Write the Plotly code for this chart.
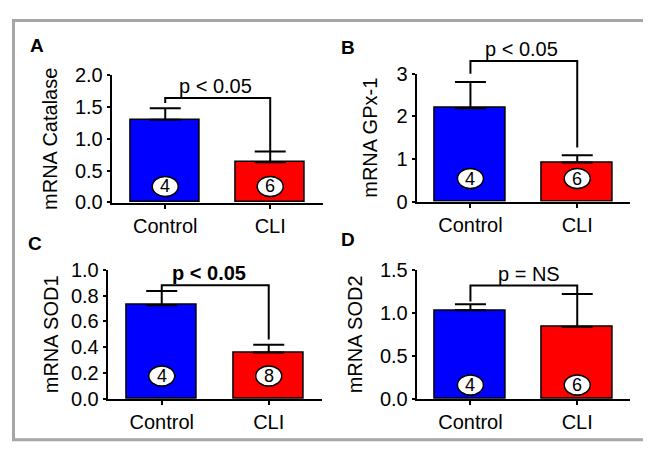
import plotly.graph_objects as go

# page body adds an 8px margin, so the figure is placed at (8, 8) in the window
OX, OY = 8, 8
W, H = 651 - OX, 455 - OY

groups = ["Control", "CLI"]
group_x = [0, 1]
colors = ["#0000ff", "#ff0000"]

panels = ["A", "B", "C", "D"]
ylabels = ["mRNA Catalase", "mRNA GPx-1", "mRNA SOD1", "mRNA SOD2"]

means_A = [1.30, 0.63]
sem_A = [0.18, 0.17]
means_B = [2.19, 0.92]
sem_B = [0.62, 0.17]
means_C = [0.726, 0.36]
sem_C = [0.11, 0.06]
means_D = [1.03, 0.838]
sem_D = [0.07, 0.38]

n_A = ["4", "6"]
n_B = ["4", "6"]
n_C = ["4", "8"]
n_D = ["4", "6"]

# bracket: [left leg end, top, right leg end]
bracket_A = [1.56, 1.64, 0.80]
bracket_B = [3.00, 3.30, 1.27]
bracket_C = [0.84, 0.88, 0.46]
bracket_D = [1.13, 1.316, 1.217]

ptext = ["p < 0.05", "p < 0.05", "<b>p < 0.05</b>", "p = NS"]

yranges = [[0, 2.0], [0, 3.0], [0, 1.0], [0, 1.5]]
ydticks = [0.5, 1, 0.2, 0.5]
yfmts = [".1f", "d", ".1f", ".1f"]

means = [means_A, means_B, means_C, means_D]
sems = [sem_A, sem_B, sem_C, sem_D]
ns = [n_A, n_B, n_C, n_D]
brackets = [bracket_A, bracket_B, bracket_C, bracket_D]

# layout geometry (window pixels)
xdom_px = [(111.7, 322.7), (416.7, 630.0), (107.7, 321.7), (416.7, 630.0)]
ydom_px = [(201.0, 67.0), (200.0, 65.7), (407.7, 271.7), (407.7, 271.7)]
xranges = [[-0.51, 1.50], [-0.503, 1.494], [-0.505, 1.495], [-0.503, 1.494]]
circle_off = [16, 23, 23, 14]
ptext_xshift = [-2, -2, -6, 5]
title_standoff = [12, 14, 7, 12]
letter_pos = [(37, 36), (348, 38), (35, 244), (348, 240)]
EXTRA = 40  # extra pixels above each panel for the significance bracket


def px_x(p):
    return (p - OX) / W


def px_y(p):
    return 1 - (p - OY) / H


FONT = "Liberation Sans, Arial, sans-serif"
fig = go.Figure()
shapes = []
annotations = []

for i in range(4):
    sfx = "" if i == 0 else str(i + 1)
    xa = "x" + sfx
    ya = "y" + sfx
    yb_name = "y" + str(i + 5)
    fig.add_trace(go.Bar(
        x=group_x, y=means[i], width=0.66,
        marker=dict(color=colors, line=dict(color="black", width=1.5)),
        error_y=dict(type="data", array=sems[i], arrayminus=[0, 0], symmetric=False,
                     color="black", thickness=2, width=15.5),
        xaxis=xa, yaxis=ya, showlegend=False, hoverinfo="skip",
    ))
    b = brackets[i]
    fig.add_trace(go.Scatter(
        x=[group_x[0], group_x[0], group_x[1], group_x[1]],
        y=[b[0], b[1], b[1], b[2]],
        mode="lines", line=dict(color="black", width=2),
        xaxis=xa, yaxis=yb_name, showlegend=False, hoverinfo="skip",
    ))
    annotations.append(dict(
        x=(group_x[0] + group_x[1]) / 2, y=b[1], xref=xa, yref=yb_name,
        text=ptext[i], showarrow=False, yanchor="bottom", xshift=ptext_xshift[i], yshift=-1,
        font=dict(family=FONT, size=20, color="black"),
    ))
    for j in range(2):
        off = circle_off[i]
        shapes.append(dict(
            type="circle", xref=xa, yref=ya,
            xsizemode="pixel", xanchor=group_x[j], x0=-13, x1=13,
            ysizemode="pixel", yanchor=0, y0=off - 10, y1=off + 10,
            fillcolor="white", line=dict(color="black", width=1.5), layer="above",
        ))
        annotations.append(dict(
            x=group_x[j], y=0, xref=xa, yref=ya, text=ns[i][j], showarrow=False,
            yanchor="middle", yshift=off, font=dict(family=FONT, size=18, color="black"),
        ))
    x0, x1 = xdom_px[i]
    yb, yt = ydom_px[i]
    fig.layout["xaxis" + sfx] = dict(
        domain=[px_x(x0), px_x(x1)], range=xranges[i], anchor=ya,
        tickvals=group_x, ticktext=groups, ticks="outside", ticklen=4, tickwidth=2,
        tickcolor="black", showline=True, linecolor="black", linewidth=2,
        showgrid=False, zeroline=False, fixedrange=True,
        tickfont=dict(family=FONT, size=20, color="black"),
    )
    fig.layout["yaxis" + sfx] = dict(
        domain=[px_y(yb), px_y(yt)], range=yranges[i], anchor=xa,
        dtick=ydticks[i], tick0=0, tickformat=yfmts[i], ticks="outside", ticklen=3,
        tickwidth=2, tickcolor="black", showline=True, linecolor="black", linewidth=2,
        showgrid=False, zeroline=False, fixedrange=True,
        tickfont=dict(family=FONT, size=20, color="black"),
        title=dict(text=ylabels[i], standoff=title_standoff[i],
                   font=dict(family=FONT, size=20, color="black")),
    )
    # invisible taller axis sharing the same scale, so the bracket is not clipped
    r0, r1 = yranges[i]
    scale = (r1 - r0) / (yb - yt)
    fig.layout["yaxis" + str(i + 5)] = dict(
        domain=[px_y(yb), px_y(yt - EXTRA)], range=[r0, r1 + EXTRA * scale],
        anchor=xa, visible=False, fixedrange=True,
    )
    lx, ly = letter_pos[i]
    annotations.append(dict(
        x=px_x(lx), y=px_y(ly), xref="paper", yref="paper", text="<b>" + panels[i] + "</b>",
        showarrow=False, xanchor="center", yanchor="middle",
        font=dict(family=FONT, size=19, color="black"),
    ))

# frame
shapes.append(dict(type="rect", xref="paper", yref="paper",
                   x0=px_x(13.5), x1=px_x(647), y0=px_y(450.5), y1=px_y(9.5),
                   line=dict(color="#a6a6a6", width=3), fillcolor="rgba(0,0,0,0)", layer="below"))

fig.update_layout(
    width=W, height=H, margin=dict(l=0, r=0, t=0, b=0),
    paper_bgcolor="white", plot_bgcolor="rgba(0,0,0,0)",
    shapes=shapes, annotations=annotations, bargap=0,
    font=dict(family=FONT, color="black"),
)

fig.write_html("out.html", config={"displayModeBar": False})
